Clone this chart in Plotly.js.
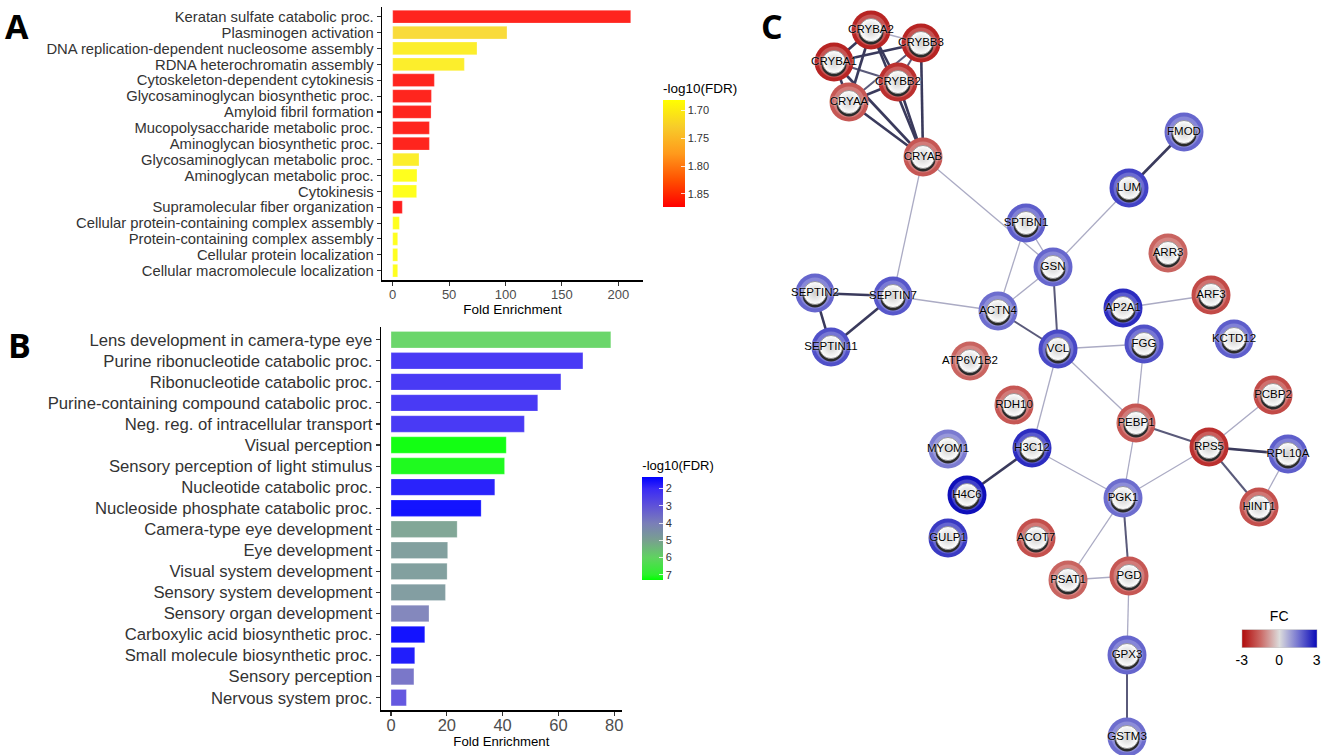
<!DOCTYPE html>
<html><head><meta charset="utf-8">
<script src="https://cdn.plot.ly/plotly-3.0.1.min.js"></script>
<style>html,body{margin:0;padding:0;background:#fff}#chart{width:1325px;height:755px}</style>
</head><body><div id="chart"></div>
<script>
// ---------- Panel A data ----------
const termsA = ["Keratan sulfate catabolic proc.","Plasminogen activation","DNA replication-dependent nucleosome assembly","RDNA heterochromatin assembly","Cytoskeleton-dependent cytokinesis","Glycosaminoglycan biosynthetic proc.","Amyloid fibril formation","Mucopolysaccharide metabolic proc.","Aminoglycan biosynthetic proc.","Glycosaminoglycan metabolic proc.","Aminoglycan metabolic proc.","Cytokinesis","Supramolecular fiber organization","Cellular protein-containing complex assembly","Protein-containing complex assembly","Cellular protein localization","Cellular macromolecule localization"];
const foldA = [211, 101.3, 74.7, 63.5, 36.9, 34.3, 34.0, 32.5, 32.5, 23.3, 21.5, 21.2, 8.5, 5.9, 4.4, 4.4, 4.4];
const fdrA = [1.87, 1.72, 1.70, 1.70, 1.87, 1.87, 1.87, 1.87, 1.87, 1.70, 1.682, 1.682, 1.874, 1.682, 1.682, 1.682, 1.682];
const fdrTicksA = [1.70, 1.75, 1.80, 1.85];
const ticksFoldA = [0, 50, 100, 150, 200];

// ---------- Panel B data ----------
const termsB = ["Lens development in camera-type eye","Purine ribonucleotide catabolic proc.","Ribonucleotide catabolic proc.","Purine-containing compound catabolic proc.","Neg. reg. of intracellular transport","Visual perception","Sensory perception of light stimulus","Nucleotide catabolic proc.","Nucleoside phosphate catabolic proc.","Camera-type eye development","Eye development","Visual system development","Sensory system development","Sensory organ development","Carboxylic acid biosynthetic proc.","Small molecule biosynthetic proc.","Sensory perception","Nervous system proc."];
const foldB = [78.8, 68.8, 60.9, 52.6, 47.8, 41.3, 40.7, 37.2, 32.3, 23.7, 20.3, 20.1, 19.5, 13.6, 12.1, 8.5, 8.2, 5.5];
const fdrB = [6.0, 2.0, 2.0, 2.0, 2.0, 7.29, 7.2, 1.6, 1.32, 5.0, 4.8, 4.8, 4.7, 4.0, 1.32, 1.5, 3.6, 2.8];
const fdrTicksB = [2, 3, 4, 5, 6, 7];
const ticksFoldB = [0, 20, 40, 60, 80];

// ---------- Panel C data (network) ----------
const nodeNames = ["CRYBA2","CRYBB3","CRYBA1","CRYBB2","CRYAA","CRYAB","SPTBN1","FMOD","LUM","ARR3","GSN","SEPTIN2","SEPTIN7","ACTN4","SEPTIN11","ATP6V1B2","RDH10","MYOM1","H3C12","H4C6","AP2A1","ARF3","VCL","FGG","KCTD12","PCBP2","PEBP1","RPS5","RPL10A","PGK1","HINT1","GULP1","ACOT7","PSAT1","PGD","GPX3","GSTM3"];
const nodeX = [871, 921, 834, 898, 849, 923, 1026, 1184, 1129, 1168, 1053, 815, 893, 998, 831, 970, 1014, 948, 1032, 967, 1123, 1211, 1058, 1144, 1234, 1273, 1136, 1209, 1288, 1123, 1259, 948, 1036, 1068, 1129, 1127, 1127];
const nodeY = [30, 43, 62, 82, 102, 157, 223, 132, 188, 253, 267, 293, 296, 311, 347, 361, 405, 449, 448, 495, 308, 295, 349, 344, 339, 395, 423, 447, 454, 498, 507, 538, 538, 580, 576, 655, 737];
const nodeFC = [-2.6, -2.6, -2.6, -2.4, -1.8, -1.8, 1.8, 1.7, 2.2, -1.6, 1.7, 1.7, 1.9, 1.6, 2.0, -1.6, -1.8, 1.4, 2.5, 2.9, 2.5, -2.0, 2.1, 2.0, 1.8, -2.0, -1.8, -2.4, 1.8, 1.6, -1.9, 2.3, -1.9, -1.6, -1.8, 1.7, 1.6];
const fcTicks = [-3, 0, 3];
const edgeFrom = ["CRYBA1","CRYBA1","CRYBA1","CRYBA1","CRYBA1","CRYBA2","CRYBA2","CRYBA2","CRYBA2","CRYBB3","CRYBB3","CRYBB3","CRYBB2","CRYBB2","CRYAA","CRYAB","CRYAB","FMOD","LUM","SPTBN1","SPTBN1","GSN","SEPTIN2","SEPTIN2","SEPTIN7","SEPTIN7","ACTN4","GSN","VCL","VCL","VCL","AP2A1","FGG","H3C12","H3C12","PEBP1","PEBP1","RPS5","RPS5","RPS5","RPS5","RPL10A","PGK1","PGK1","PSAT1","PGD","GPX3"];
const edgeTo   = ["CRYBA2","CRYBB3","CRYBB2","CRYAA","CRYAB","CRYBB3","CRYBB2","CRYAA","CRYAB","CRYBB2","CRYAA","CRYAB","CRYAA","CRYAB","CRYAB","GSN","SEPTIN7","LUM","GSN","GSN","ACTN4","ACTN4","SEPTIN7","SEPTIN11","SEPTIN11","ACTN4","VCL","VCL","FGG","PEBP1","H3C12","ARF3","PEBP1","H4C6","PGK1","PGK1","RPS5","PGK1","PCBP2","RPL10A","HINT1","HINT1","PGD","PSAT1","PGD","GPX3","GSTM3"];
const edgeStrength = [3,3,2,3,3,1,3,3,3,2,2,3,3,3,3,1,1,3,1,1,1,1,3,3,3,1,2,2,1,1,1,1,1,3,1,1,2,1,1,3,2,1,2,1,1,1,2];

// ---------- build ----------
const FONT = "Liberation Sans, Arial, sans-serif";
const W = 1325, H = 755;
const px = v => v / W;
const py = v => 1 - v / H;

const scaleA = [[0,'#FF0000'],[0.25,'#FF5000'],[0.5,'#FF9A1C'],[0.75,'#F7CC2A'],[1,'#FFFF00']];
const scaleB = [[0,'#00FF00'],[0.05,'#2CF02C'],[0.216,'#5FD35F'],[0.384,'#78A08F'],[0.551,'#7A7EB8'],[0.719,'#5F52D8'],[0.886,'#3A2AF5'],[1,'#0000FF']];
const scaleFC = [[0,'#B00A0A'],[0.25,'#CB6A66'],[0.5,'#DCDCDC'],[0.75,'#7474D0'],[1,'#0808B8']];

const traces = [];

traces.push({
  type:'bar', orientation:'h', x: foldA, y: termsA, xaxis:'x', yaxis:'y', width:0.8,
  marker:{color: fdrA.map(v=>-v), colorscale: scaleA, cmin:-1.874, cmax:-1.682, opacity:0.88,
    line:{width:0.6, color:'rgba(255,255,255,0.4)'},
    showscale:true,
    colorbar:{x:px(663), xanchor:'left', y:py(143.8), yanchor:'middle', len:127/H, lenmode:'fraction',
      thickness:22, thicknessmode:'pixels', outlinewidth:0, xpad:0, ypad:0,
      tickvals: fdrTicksA.map(v=>-v), ticktext: fdrTicksA.map(v=>v.toFixed(2)),
      ticks:'inside', ticklen:4, tickcolor:'rgba(255,255,255,0.8)',
      tickfont:{family:FONT, size:11, color:'#333'},
      title:{text:'-log10(FDR)', side:'top', font:{family:FONT, size:13.5, color:'#000'}}}},
  hoverinfo:'skip'
});

traces.push({
  type:'bar', orientation:'h', x: foldB, y: termsB, xaxis:'x2', yaxis:'y2', width:0.78,
  marker:{color: fdrB.map(v=>-v), colorscale: scaleB, cmin:-7.29, cmax:-1.32, opacity:0.92,
    line:{width:0.6, color:'rgba(255,255,255,0.4)'},
    showscale:true,
    colorbar:{x:px(642.3), xanchor:'left', y:py(518.4), yanchor:'middle', len:123.3/H, lenmode:'fraction',
      thickness:20.5, thicknessmode:'pixels', outlinewidth:0, xpad:0, ypad:0,
      tickvals: fdrTicksB.map(v=>-v), ticktext: fdrTicksB.map(v=>String(v)),
      ticks:'inside', ticklen:4, tickcolor:'rgba(255,255,255,0.8)',
      tickfont:{family:FONT, size:11, color:'#333'},
      title:{text:'-log10(FDR)', side:'top', font:{family:FONT, size:13, color:'#000'}}}},
  hoverinfo:'skip'
});

// network edges
const idx = {};
nodeNames.forEach((n,i)=>idx[n]=i);
const edgeStyles = {
  1:{color:'#ABABC4', width:1.3},
  2:{color:'#5A5A7A', width:2.0},
  3:{color:'#3A3A5C', width:2.6}
};
[1,2,3].forEach(s=>{
  const xs=[], ys=[];
  edgeFrom.forEach((f,k)=>{
    if(edgeStrength[k]!==s) return;
    const a=idx[f], b=idx[edgeTo[k]];
    xs.push(nodeX[a], nodeX[b], null);
    ys.push(nodeY[a], nodeY[b], null);
  });
  traces.push({type:'scatter', mode:'lines', x:xs, y:ys, xaxis:'x3', yaxis:'y3',
    line:{color:edgeStyles[s].color, width:edgeStyles[s].width}, hoverinfo:'skip', showlegend:false});
});

// rings
traces.push({type:'scatter', mode:'markers', x:nodeX, y:nodeY, xaxis:'x3', yaxis:'y3',
  marker:{size:39, color:nodeFC, colorscale:scaleFC, cmin:-3, cmax:3, line:{width:0},
    showscale:true,
    colorbar:{orientation:'h', x:px(1279.2), xanchor:'center', y:py(638.8), yanchor:'middle',
      len:75/W, lenmode:'fraction', thickness:17.5, thicknessmode:'pixels', outlinewidth:0.5, outlinecolor:'#bbb',
      xpad:0, ypad:0, tickvals:fcTicks, ticktext:fcTicks.map(String), ticks:'',
      tickfont:{family:FONT, size:14, color:'#000'},
      title:{text:'FC', side:'top', font:{family:FONT, size:14, color:'#000'}}}},
  hoverinfo:'skip', showlegend:false});
// inner ring highlight
traces.push({type:'scatter', mode:'markers', x:nodeX, y:nodeY, xaxis:'x3', yaxis:'y3',
  marker:{size:31, color:'rgba(255,255,255,0.22)', line:{width:0}}, hoverinfo:'skip', showlegend:false});
// sphere shadow
traces.push({type:'scatter', mode:'markers', x:nodeX, y:nodeY.map(v=>v+2), xaxis:'x3', yaxis:'y3',
  marker:{size:25, color:'#2a2a2a', line:{width:0}}, hoverinfo:'skip', showlegend:false});
// sphere
traces.push({type:'scatter', mode:'markers', x:nodeX, y:nodeY, xaxis:'x3', yaxis:'y3',
  marker:{size:23, color:'#ffffff', line:{width:0.8, color:'#888'}, gradient:{type:'radial', color:'#cfcfcf'}},
  hoverinfo:'skip', showlegend:false});
// labels
traces.push({type:'scatter', mode:'text', x:nodeX, y:nodeY, xaxis:'x3', yaxis:'y3', text:nodeNames,
  textposition:'middle center',
  textfont:{family:FONT, size:11.5, color:'#000', shadow:'0px 0px 2px #ffffff'},
  hoverinfo:'skip', showlegend:false});

const axisBase = {showgrid:false, zeroline:false, showline:true, linecolor:'#000', linewidth:1.3,
  ticks:'outside', ticklen:4, tickcolor:'#333', tickwidth:1.1, fixedrange:true};

const panelFont = {family:'Open Sans, Liberation Sans', size:34, color:'#000'};
const layout = {
  width:W, height:H, margin:{l:0,r:0,t:0,b:0}, paper_bgcolor:'#fff', plot_bgcolor:'rgba(0,0,0,0)',
  showlegend:false, font:{family:FONT, color:'#333'},
  xaxis: Object.assign({}, axisBase, {domain:[px(382), px(643)], range:[-9.5, 221.9], anchor:'y',
    tickvals:ticksFoldA, tickfont:{size:13, color:'#4D4D4D'}, ticklabelstandoff:-2,
    title:{text:'Fold Enrichment', font:{size:13.5, color:'#000'}, standoff:2}}),
  yaxis: Object.assign({}, axisBase, {domain:[py(280.2), py(7.2)], range:[16.6, -0.6], anchor:'x',
    type:'category', tickmode:'array', tickvals:termsA, ticktext:termsA, tickfont:{size:14.8, color:'#333'}}),
  xaxis2: Object.assign({}, axisBase, {domain:[px(381), px(621.7)], range:[-3.6, 82.7], anchor:'y2',
    tickvals:ticksFoldB, tickfont:{size:16.5, color:'#4D4D4D'}, ticklabelstandoff:-4,
    title:{text:'Fold Enrichment', font:{size:13.2, color:'#000'}, standoff:0}}),
  yaxis2: Object.assign({}, axisBase, {domain:[py(710.3), py(327.1)], range:[17.6, -0.6], anchor:'x2',
    type:'category', tickmode:'array', tickvals:termsB, ticktext:termsB, tickfont:{size:16.7, color:'#333'}}),
  xaxis3: {domain:[px(755), 1], range:[755, 1325], visible:false, fixedrange:true, anchor:'y3'},
  yaxis3: {domain:[0, 1], range:[755, 0], visible:false, fixedrange:true, anchor:'x3'},
  annotations:[
    {text:'<b>A</b>', x:px(17), y:py(1), xref:'paper', yref:'paper', xanchor:'center', yanchor:'top', showarrow:false, font:panelFont},
    {text:'<b>B</b>', x:px(19), y:py(345), xref:'paper', yref:'paper', xanchor:'center', yanchor:'middle', showarrow:false, font:panelFont},
    {text:'<b>C</b>', x:px(772), y:py(1), xref:'paper', yref:'paper', xanchor:'center', yanchor:'top', showarrow:false, font:panelFont}
  ]
};

Plotly.newPlot('chart', traces, layout, {displayModeBar:false, staticPlot:true});
</script></body></html>
